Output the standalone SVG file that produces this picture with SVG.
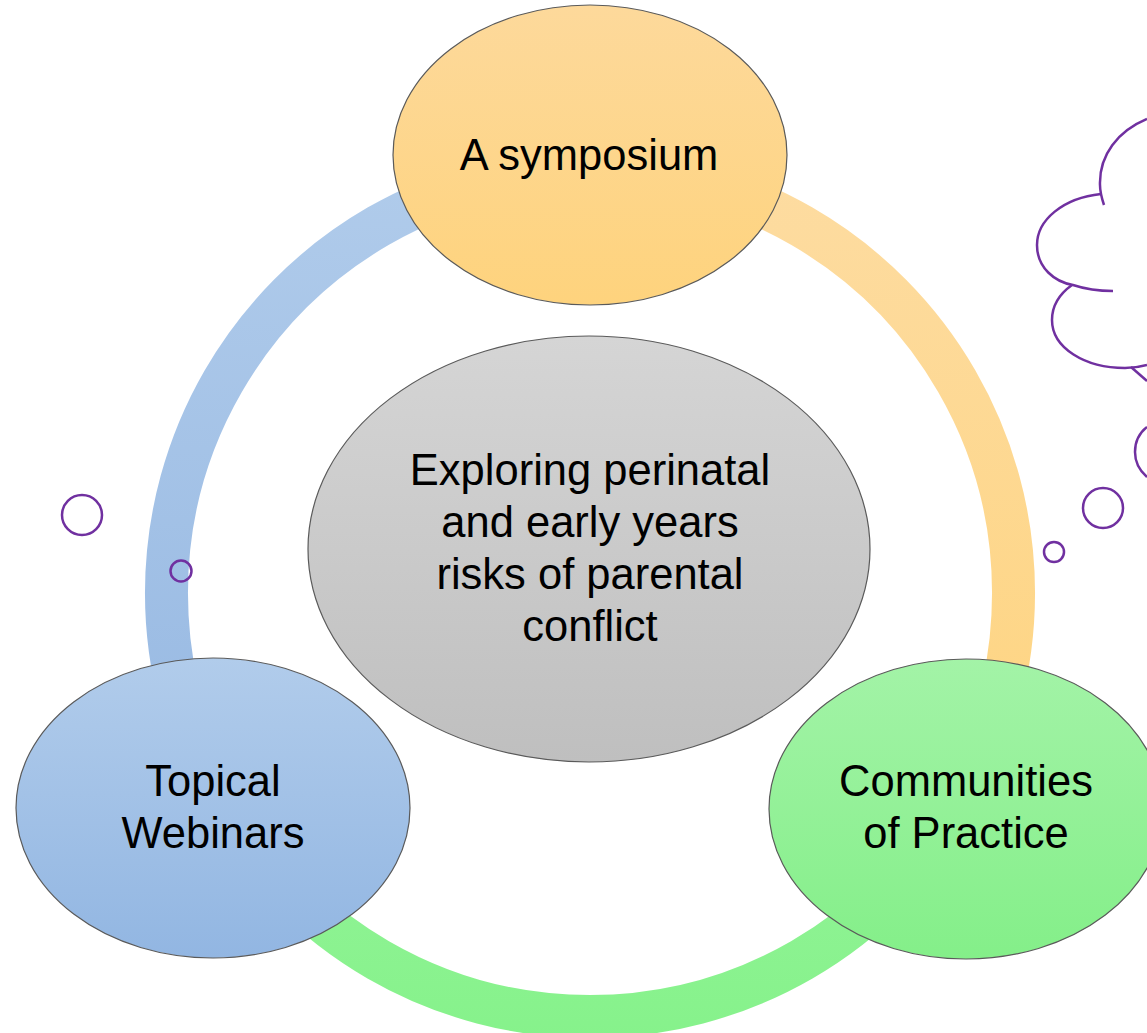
<svg xmlns="http://www.w3.org/2000/svg" width="1147" height="1033" viewBox="0 0 1147 1033">
<defs>
<linearGradient id="gOrange" x1="0" y1="0" x2="0" y2="1"><stop offset="0" stop-color="#fdd99b"/><stop offset="1" stop-color="#fed37d"/></linearGradient>
<linearGradient id="gGray" x1="0" y1="0" x2="0" y2="1"><stop offset="0" stop-color="#d5d5d5"/><stop offset="1" stop-color="#bfbfbf"/></linearGradient>
<linearGradient id="gBlue" x1="0" y1="0" x2="0" y2="1"><stop offset="0" stop-color="#b1cceb"/><stop offset="1" stop-color="#92b6e2"/></linearGradient>
<linearGradient id="gGreen" x1="0" y1="0" x2="0" y2="1"><stop offset="0" stop-color="#a3f3a7"/><stop offset="1" stop-color="#84ef89"/></linearGradient>
<linearGradient id="aBlue" gradientUnits="userSpaceOnUse" x1="0" y1="150" x2="0" y2="820"><stop offset="0" stop-color="#b1cceb"/><stop offset="1" stop-color="#96b8e2"/></linearGradient>
<linearGradient id="aOrange" gradientUnits="userSpaceOnUse" x1="0" y1="150" x2="0" y2="820"><stop offset="0" stop-color="#fddca2"/><stop offset="1" stop-color="#fed47f"/></linearGradient>
<linearGradient id="aGreen" gradientUnits="userSpaceOnUse" x1="0" y1="800" x2="0" y2="1040"><stop offset="0" stop-color="#93f398"/><stop offset="1" stop-color="#86f28b"/></linearGradient>
</defs>
<style>
.arc{fill:none;stroke-width:43}
.node{stroke:#5a5a5a;stroke-width:1.2}
.lbl{font-family:"Liberation Sans",Arial,sans-serif;font-size:43.5px;fill:#000;text-anchor:middle}
.deco{fill:none;stroke:#7030a0;stroke-width:2.5}
</style>
<rect width="1147" height="1033" fill="#ffffff"/>
<g id="connectors">
<path class="arc" stroke="url(#aBlue)" d="M590,169.5 A423.5,423.5 0 0 0 223.2,804.75"/>
<path class="arc" stroke="url(#aOrange)" d="M590,169.5 A423.5,423.5 0 0 1 956.8,804.75"/>
<path class="arc" stroke="url(#aGreen)" d="M956.8,804.75 A423.5,423.5 0 0 1 223.2,804.75"/>
</g>
<g id="center">
<ellipse class="node" cx="589" cy="549" rx="281" ry="213" fill="url(#gGray)"/>
<text class="lbl"><tspan x="590" y="485">Exploring perinatal</tspan><tspan x="590" y="537">and early years</tspan><tspan x="590" y="589">risks of parental</tspan><tspan x="590" y="641">conflict</tspan></text>
</g>
<g id="symposium">
<ellipse class="node" cx="590" cy="155" rx="197" ry="150" fill="url(#gOrange)"/>
<text class="lbl" x="589" y="170">A symposium</text>
</g>
<g id="webinars">
<ellipse class="node" cx="213" cy="808" rx="197" ry="150" fill="url(#gBlue)"/>
<text class="lbl"><tspan x="213" y="796">Topical</tspan><tspan x="213" y="848">Webinars</tspan></text>
</g>
<g id="communities">
<ellipse class="node" cx="966" cy="809" rx="197" ry="150" fill="url(#gGreen)"/>
<text class="lbl"><tspan x="966" y="796">Communities</tspan><tspan x="966" y="848">of Practice</tspan></text>
</g>
<g id="decorations">
<circle class="deco" cx="82" cy="515" r="20"/>
<circle class="deco" cx="181" cy="571" r="10.5"/>
<circle class="deco" cx="1103" cy="508" r="20"/>
<circle class="deco" cx="1054" cy="552" r="10"/>
<path class="deco" d="M1147,119 C1118,131 1099,155 1100,185 C1100,193 1102,199 1104,205"/>
<path class="deco" d="M1101,194 C1063,198 1037,220 1037,245 C1037,268 1055,282 1073,285 C1085,289 1100,291 1113,291"/>
<path class="deco" d="M1072,285 C1058,295 1052,308 1052,320 C1052,348 1085,368 1125,368 C1133,368 1140,367 1147,365"/>
<path class="deco" d="M1131,367 L1147,381"/>
<path class="deco" d="M1147,427 C1138,434 1135,443 1135,452 C1135,462 1140,471 1147,477"/>
</g>
</svg>
